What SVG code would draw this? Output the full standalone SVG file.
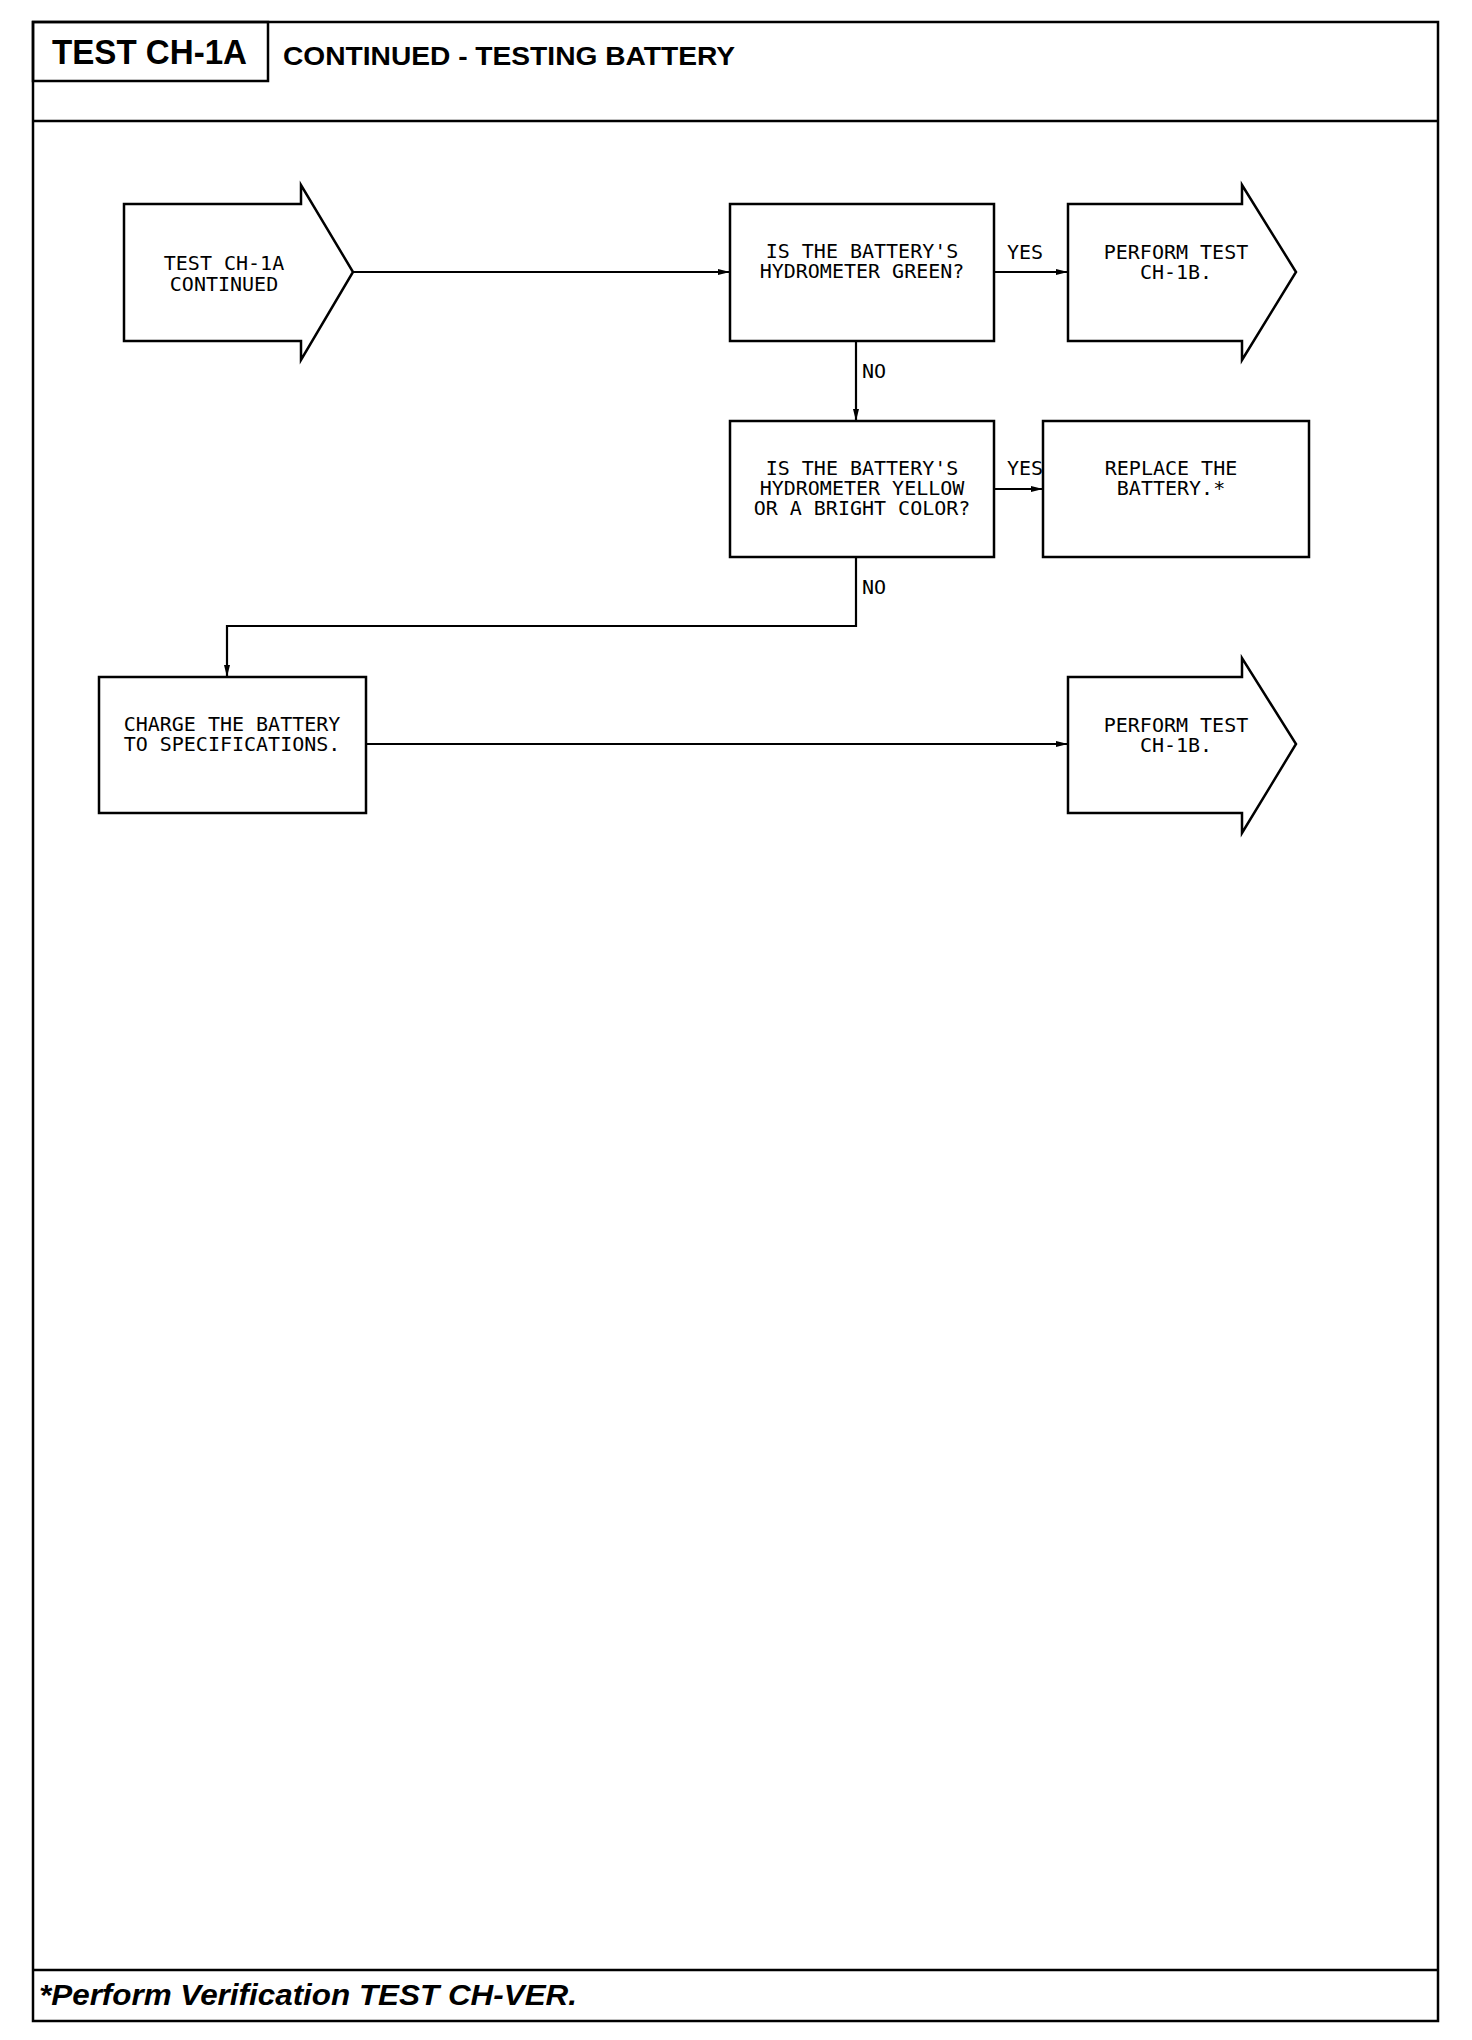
<svg xmlns="http://www.w3.org/2000/svg" width="1472" height="2040" viewBox="0 0 1472 2040">
<defs>
<style>
.frame{fill:none;stroke:#000;stroke-width:2.5}
.node{fill:#fff;stroke:#000;stroke-width:2.5;stroke-linejoin:miter}
.conn{fill:none;stroke:#000;stroke-width:2.2}
.t{font-family:"DejaVu Sans Mono","Liberation Mono",monospace;font-size:20px;fill:#000;text-anchor:middle}
.lbl{font-family:"DejaVu Sans Mono","Liberation Mono",monospace;font-size:20px;fill:#000}
.hd{font-family:"Liberation Sans",Arial,sans-serif;font-weight:bold;fill:#000}
</style>
<marker id="ah" markerWidth="12" markerHeight="8" refX="12" refY="4" orient="auto" markerUnits="userSpaceOnUse">
<path d="M0,1 L12,4 L0,7 Z" fill="#000"/>
</marker>
</defs>
<rect width="1472" height="2040" fill="#fff"/>
<g id="frame">
<rect class="frame" x="33" y="22" width="1405" height="1999"/>
<rect class="frame" x="33" y="22" width="235" height="59"/>
<line class="frame" x1="33" y1="121" x2="1438" y2="121"/>
<line class="frame" x1="33" y1="1970" x2="1438" y2="1970"/>
<text class="hd" x="52" y="64" font-size="35" textLength="195" lengthAdjust="spacingAndGlyphs">TEST CH-1A</text>
<text class="hd" x="283" y="65" font-size="26" textLength="452" lengthAdjust="spacingAndGlyphs">CONTINUED - TESTING BATTERY</text>
<text class="hd" x="39" y="2005" font-size="29" font-style="italic" textLength="538" lengthAdjust="spacingAndGlyphs">*Perform Verification TEST CH-VER.</text>
</g>
<g id="connectors">
<line class="conn" x1="353" y1="272" x2="730" y2="272" marker-end="url(#ah)"/>
<line class="conn" x1="994" y1="272" x2="1068" y2="272" marker-end="url(#ah)"/>
<line class="conn" x1="856" y1="341" x2="856" y2="421" marker-end="url(#ah)"/>
<line class="conn" x1="994" y1="489" x2="1043" y2="489" marker-end="url(#ah)"/>
<polyline class="conn" points="856,557 856,626 227,626 227,677" marker-end="url(#ah)"/>
<line class="conn" x1="366" y1="744" x2="1068" y2="744" marker-end="url(#ah)"/>
<text class="lbl" x="1007" y="259">YES</text>
<text class="lbl" x="862" y="378">NO</text>
<text class="lbl" x="1007" y="475">YES</text>
<text class="lbl" x="862" y="594">NO</text>
</g>
<g id="start">
<polygon class="node" points="124,204 301,204 301,185 353,272 301,360 301,341 124,341"/>
<text class="t" x="224" y="270">TEST CH-1A</text>
<text class="t" x="224" y="291">CONTINUED</text>
</g>
<g id="q1">
<rect class="node" x="730" y="204" width="264" height="137"/>
<text class="t" x="862" y="258">IS THE BATTERY'S</text>
<text class="t" x="862" y="278">HYDROMETER GREEN?</text>
</g>
<g id="perform1">
<polygon class="node" points="1068,204 1242,204 1242,185 1296,272 1242,360 1242,341 1068,341"/>
<text class="t" x="1176" y="259">PERFORM TEST</text>
<text class="t" x="1176" y="279">CH-1B.</text>
</g>
<g id="q2">
<rect class="node" x="730" y="421" width="264" height="136"/>
<text class="t" x="862" y="475">IS THE BATTERY'S</text>
<text class="t" x="862" y="495">HYDROMETER YELLOW</text>
<text class="t" x="862" y="515">OR A BRIGHT COLOR?</text>
</g>
<g id="replace">
<rect class="node" x="1043" y="421" width="266" height="136"/>
<text class="t" x="1171" y="475">REPLACE THE</text>
<text class="t" x="1171" y="495">BATTERY.*</text>
</g>
<g id="charge">
<rect class="node" x="99" y="677" width="267" height="136"/>
<text class="t" x="232" y="731">CHARGE THE BATTERY</text>
<text class="t" x="232" y="751">TO SPECIFICATIONS.</text>
</g>
<g id="perform2">
<polygon class="node" points="1068,677 1242,677 1242,658 1296,744 1242,833 1242,813 1068,813"/>
<text class="t" x="1176" y="732">PERFORM TEST</text>
<text class="t" x="1176" y="752">CH-1B.</text>
</g>
</svg>
